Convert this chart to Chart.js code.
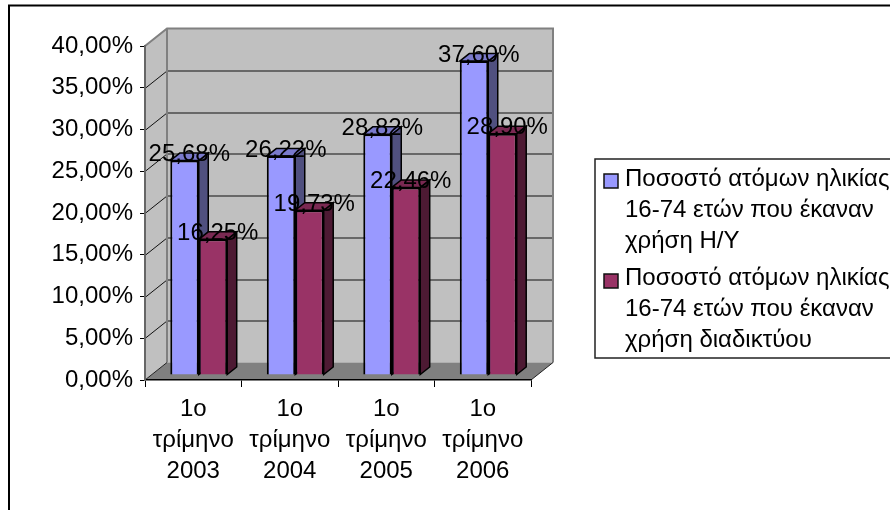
<!DOCTYPE html>
<html>
<head>
<meta charset="utf-8">
<title>Ποσοστό ατόμων</title>
<script src="https://cdn.jsdelivr.net/npm/chart.js@4/dist/chart.umd.js"></script>
<style>
  html, body { margin: 0; padding: 0; background: #fff; overflow: hidden; }
  canvas { display: block; }
</style>
</head>
<body>
<canvas id="chart" width="890" height="510"></canvas>
<script>
// ── Data ──
const categories = [
  ["1o", "τρίμηνο", "2003"],
  ["1o", "τρίμηνο", "2004"],
  ["1o", "τρίμηνο", "2005"],
  ["1o", "τρίμηνο", "2006"],
];
const pcUse = [25.68, 26.22, 28.82, 37.6];
const internetUse = [16.25, 19.73, 22.46, 28.9];
const pcLabel = ["Ποσοστό ατόμων ηλικίας", "16-74 ετών που έκαναν", "χρήση Η/Υ"];
const internetLabel = ["Ποσοστό ατόμων ηλικίας", "16-74 ετών που έκαναν", "χρήση διαδικτύου"];
const yTickLabels = ["0,00%", "5,00%", "10,00%", "15,00%", "20,00%", "25,00%", "30,00%", "35,00%", "40,00%"];

// ── 3D look ──
const FONT = "'Liberation Sans', Arial, sans-serif";
const WALL_DX = 22, WALL_DY = -17.5; // depth of the whole box
const BAR_SHIFT_X = 5.5, BAR_SHIFT_Y = -5; // gap between front plane and bars
const BAR_DX = 9.5, BAR_DY = -7.5; // depth of a bar
const faces = [
  { side: "#50507F", top: "#7A7ACC" },
  { side: "#4D1A33", top: "#7A2952" },
];
const pct = (v) => v.toFixed(2).replace(".", ",") + "%";

function poly(ctx, pts, fill, stroke, lw) {
  ctx.beginPath();
  pts.forEach((p, i) => (i ? ctx.lineTo(p[0], p[1]) : ctx.moveTo(p[0], p[1])));
  ctx.closePath();
  if (fill) {
    ctx.fillStyle = fill;
    ctx.fill();
  }
  if (stroke) {
    ctx.strokeStyle = stroke;
    ctx.lineWidth = lw;
    ctx.stroke();
  }
}

// walls, floor, gridlines, outer frame and the legend frame
const wallsPlugin = {
  id: "walls",
  beforeDraw(chart) {
    const { ctx, chartArea: a, scales } = chart;
    const dx = WALL_DX, dy = WALL_DY;
    ctx.save();
    poly(ctx, [[a.left + dx, a.top + dy], [a.right + dx, a.top + dy], [a.right + dx, a.bottom + dy], [a.left + dx, a.bottom + dy]], "#C0C0C0");
    poly(ctx, [[a.left, a.top], [a.left + dx, a.top + dy], [a.left + dx, a.bottom + dy], [a.left, a.bottom]], "#C0C0C0");
    poly(ctx, [[a.left, a.bottom], [a.left + dx, a.bottom + dy], [a.right + dx, a.bottom + dy], [a.right, a.bottom]], "#808080");

    ctx.strokeStyle = "#111";
    ctx.lineWidth = 1;
    scales.y.ticks.forEach((t) => {
      if (t.value === 0 || t.value === 40) return;
      const y = Math.round(scales.y.getPixelForValue(t.value)) + 0.5;
      ctx.beginPath();
      ctx.moveTo(a.left, y);
      ctx.lineTo(a.left + dx, y + dy);
      ctx.lineTo(a.right + dx, y + dy);
      ctx.stroke();
    });

    // wall edges
    ctx.strokeStyle = "#808080";
    ctx.lineWidth = 2;
    ctx.beginPath();
    ctx.moveTo(a.left, a.top);
    ctx.lineTo(a.left + dx, a.top + dy);
    ctx.lineTo(a.right + dx, a.top + dy);
    ctx.lineTo(a.right + dx, a.bottom + dy);
    ctx.moveTo(a.left + dx, a.top + dy);
    ctx.lineTo(a.left + dx, a.bottom + dy);
    ctx.stroke();

    // floor front corner
    ctx.strokeStyle = "#222";
    ctx.lineWidth = 1;
    ctx.beginPath();
    ctx.moveTo(a.left, a.bottom);
    ctx.lineTo(a.left + dx, a.bottom + dy);
    ctx.moveTo(a.right, a.bottom);
    ctx.lineTo(a.right + dx, a.bottom + dy);
    ctx.stroke();

    // outer frame (runs off the window on the right and bottom)
    ctx.strokeStyle = "#000";
    ctx.lineWidth = 2;
    ctx.beginPath();
    ctx.moveTo(9, 520);
    ctx.lineTo(9, 5.5);
    ctx.lineTo(900, 5.5);
    ctx.stroke();

    // legend frame
    ctx.strokeStyle = "#222";
    ctx.lineWidth = 1.5;
    ctx.strokeRect(595, 159, 320, 199);
    ctx.restore();

    // legend goes where the original had it
    const lg = chart.legend;
    lg.left = 598;
    lg.right = 890;
    lg.top = 161;
    lg.bottom = 500;
  },
};

// side and top faces, then front faces shifted back into the box, then value labels
const barsPlugin = {
  id: "bars3d",
  beforeDatasetsDraw(chart) {
    const { ctx } = chart;
    ctx.save();
    ctx.translate(BAR_SHIFT_X, BAR_SHIFT_Y);
    chart.data.labels.forEach((_, i) => {
      chart.data.datasets.forEach((ds, d) => {
        const b = chart.getDatasetMeta(d).data[i];
        const l = b.x - b.width / 2, r = b.x + b.width / 2;
        poly(ctx, [[r, b.y], [r + BAR_DX, b.y + BAR_DY], [r + BAR_DX, b.base + BAR_DY], [r, b.base]], faces[d].side, "#000", 1.5);
        poly(ctx, [[l, b.y], [l + BAR_DX, b.y + BAR_DY], [r + BAR_DX, b.y + BAR_DY], [r, b.y]], faces[d].top, "#000", 1.5);
      });
    });
  },
  afterDatasetsDraw(chart) {
    const { ctx } = chart;
    ctx.restore();

    ctx.save();
    ctx.font = "24px " + FONT;
    ctx.fillStyle = "#000";
    ctx.textAlign = "center";
    ctx.textBaseline = "middle";
    chart.data.datasets.forEach((ds, d) => {
      chart.getDatasetMeta(d).data.forEach((b, i) => {
        ctx.fillText(pct(ds.data[i]), b.x + BAR_SHIFT_X + BAR_DX / 2, b.y + BAR_SHIFT_Y - 6);
      });
    });
    ctx.restore();
  },
  afterDraw(chart) {
    // legend swatches: the legend's own box slot is narrow so the text sits close to them
    const { ctx } = chart;
    ctx.save();
    chart.data.datasets.forEach((ds, d) => {
      const y = d === 0 ? 174 : 274;
      ctx.fillStyle = ds.backgroundColor;
      ctx.strokeStyle = "#111";
      ctx.lineWidth = 1.5;
      ctx.fillRect(604, y, 14, 14);
      ctx.strokeRect(604, y, 14, 14);
    });
    ctx.restore();
  },
};

new Chart(document.getElementById("chart").getContext("2d"), {
  type: "bar",
  data: {
    labels: categories,
    datasets: [
      { label: pcLabel, data: pcUse, backgroundColor: "#9999FF" },
      { label: internetLabel, data: internetUse, backgroundColor: "#993366" },
    ],
  },
  options: {
    responsive: false,
    animation: false,
    devicePixelRatio: 1,
    layout: { padding: { top: 46, right: 159, bottom: 0, left: 0 } },
    datasets: {
      bar: {
        categoryPercentage: 0.59,
        barPercentage: 1,
        borderColor: "#000",
        borderWidth: 2,
        clip: false,
      },
    },
    plugins: {
      tooltip: { enabled: false },
      legend: {
        position: "right",
        align: "start",
        maxWidth: 200,
        labels: {
          boxWidth: 9,
          boxHeight: 14,
          padding: 6,
          color: "#000",
          font: { family: FONT, size: 24, lineHeight: 31 / 24 },
          generateLabels: (chart) =>
            chart.data.datasets.map((ds, i) => ({
              text: ds.label,
              fillStyle: "rgba(0,0,0,0)",
              strokeStyle: "rgba(0,0,0,0)",
              lineWidth: 0,
              datasetIndex: i,
            })),
        },
      },
    },
    scales: {
      x: {
        afterFit: (s) => { s.height = 130; },
        grid: { drawOnChartArea: false, color: "#000", tickLength: 7, offset: true, tickColor: "#000" },
        border: { color: "#000", width: 1.5 },
        ticks: {
          color: "#000",
          padding: 7,
          maxRotation: 0,
          autoSkip: false,
          font: { family: FONT, size: 24, lineHeight: 31 / 24 },
        },
      },
      y: {
        min: 0,
        max: 40,
        afterFit: (s) => { s.width = 145; },
        grid: { drawOnChartArea: false, color: "#000", tickLength: 5, tickColor: "#000" },
        border: { color: "#666", width: 2 },
        ticks: {
          stepSize: 5,
          color: "#000",
          padding: 7,
          font: { family: FONT, size: 24 },
          callback: (v, i) => yTickLabels[i],
        },
      },
    },
  },
  plugins: [wallsPlugin, barsPlugin],
});
</script>
</body>
</html>
